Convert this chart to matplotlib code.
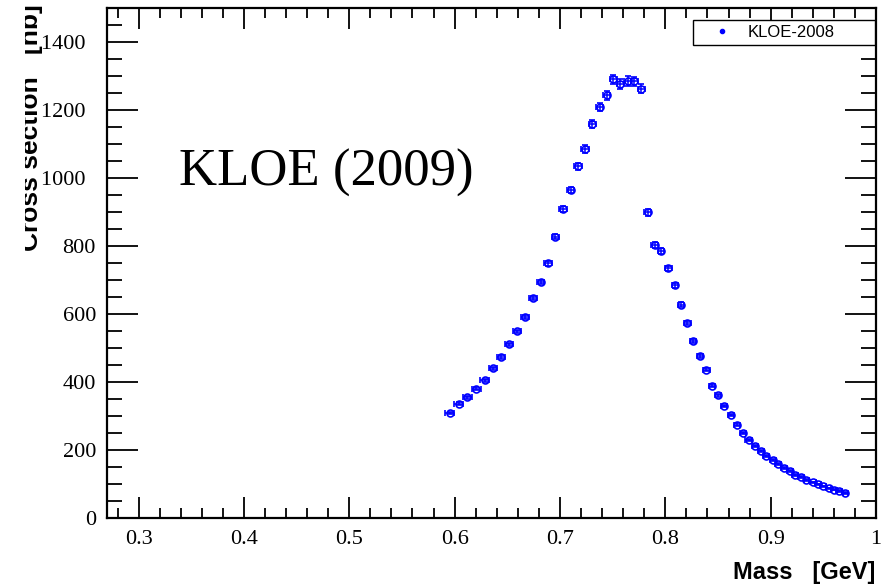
import matplotlib
matplotlib.use("Agg")
import matplotlib.pyplot as plt
from matplotlib.lines import Line2D
from matplotlib.ticker import MultipleLocator, FuncFormatter
from matplotlib.transforms import Bbox

# KLOE-2008 points
mass = [0.5955, 0.6038, 0.612, 0.6206, 0.6285, 0.6364, 0.644, 0.6516, 0.6592, 0.6668,
        0.6744, 0.6817, 0.6886, 0.6956, 0.7029, 0.710, 0.7171, 0.7238, 0.7308, 0.7377,
        0.7444, 0.7507, 0.7574, 0.7643, 0.7707, 0.7773, 0.7833, 0.790, 0.796, 0.803,
        0.809, 0.815, 0.821, 0.826, 0.833, 0.839, 0.844, 0.850, 0.856, 0.862,
        0.868, 0.874, 0.879, 0.885, 0.891, 0.896, 0.902, 0.907, 0.913, 0.918,
        0.923, 0.929, 0.934, 0.940, 0.945, 0.950, 0.955, 0.960, 0.965, 0.971]
xsec = [309, 336, 355, 380, 405, 440, 473, 511, 549, 591,
        647, 695, 749, 827, 909, 965, 1035, 1086, 1159, 1209,
        1243, 1290, 1276, 1286, 1284, 1263, 899, 802, 786, 734,
        684, 627, 573, 521, 476, 436, 389, 361, 330, 303,
        275, 251, 230, 212, 197, 183, 171, 158, 148, 138,
        126, 120, 111, 105, 99, 93, 87, 83, 79, 74]
mass_err = [0.0042, 0.0041, 0.0041, 0.0040, 0.0040, 0.0039, 0.0039,
            0.0038, 0.0038, 0.0037, 0.0037, 0.0036, 0.0036, 0.0036, 0.0035,
            0.0035, 0.0035, 0.0034, 0.0034, 0.0034, 0.0033, 0.0033, 0.0033, 0.0033, 0.0032,
            0.0032, 0.0032, 0.0032, 0.0031, 0.0031, 0.0031, 0.0031, 0.0030, 0.0030, 0.0030,
            0.0030, 0.0030, 0.0029,
            0.0029, 0.0029, 0.0029, 0.0029, 0.0029, 0.0029, 0.0029, 0.0029,
            0.0028, 0.0028, 0.0028, 0.0028, 0.0028, 0.0028, 0.0028,
            0.0027, 0.0027, 0.0027, 0.0027, 0.0027, 0.0027, 0.0027]
xsec_err = [4, 4, 4, 4, 5, 5, 5, 5, 5, 6, 6, 6, 7,
            7, 8, 9, 10, 11, 12, 13, 13, 14, 14, 14, 14, 14,
            11, 9, 9, 8, 8, 7, 6, 6, 5, 5, 4, 4,
            3, 3, 3, 3, 3, 3, 3, 3,
            2.5, 2.5, 2.5, 2.5, 2.5, 2.5, 2.5,
            2, 2, 2, 2, 2, 2, 2]

W, H = 890, 587
fig = plt.figure(figsize=(W / 100, H / 100), dpi=100)
ax = fig.add_axes([107 / W, 69 / H, (876 - 107) / W, (579 - 69) / H])

ax.errorbar(mass, xsec, xerr=mass_err, yerr=xsec_err, fmt='o', ms=5,
            mfc='none', mec='blue', mew=1.2, color='blue', elinewidth=1.1,
            capsize=2.5, capthick=1.1)

ax.set_xlim(0.27, 1.0)
ax.set_ylim(0, 1500)

ax.xaxis.set_major_locator(MultipleLocator(0.1))
ax.xaxis.set_minor_locator(MultipleLocator(0.02))
ax.yaxis.set_major_locator(MultipleLocator(200))
ax.yaxis.set_minor_locator(MultipleLocator(50))
ax.xaxis.set_major_formatter(FuncFormatter(lambda v, p: '%g' % round(v, 2)))
# the 4-digit labels sit further left in the original
ax.yaxis.set_major_formatter(FuncFormatter(
    lambda v, p: '%d \u2009' % v if v >= 1000 else '%d' % v))

ax.tick_params(axis='both', which='both', direction='in', top=True, right=True,
               width=1.3, labelfontfamily='Liberation Serif', labelsize=16)
ax.tick_params(axis='x', which='major', length=15, pad=9)
ax.tick_params(axis='x', which='minor', length=7.5)
ax.tick_params(axis='y', which='major', length=22, pad=8)
ax.tick_params(axis='y', which='minor', length=11)
for s in ax.spines.values():
    s.set_linewidth(1.6)

ax.text(0.338, 976, 'KLOE (2009)', family='Liberation Serif', fontsize=38,
        ha='left', va='baseline')

ax.legend(handles=[Line2D([], [], marker='o', ms=3, ls='', color='blue')],
          labels=['KLOE-2008'], loc='upper left',
          bbox_to_anchor=(693 / W, 1 - 20 / H - 0.01, (875 - 693) / W, 0.01),
          bbox_transform=fig.transFigure, mode='expand', borderaxespad=0,
          fancybox=False, framealpha=1, edgecolor='black',
          prop={'family': 'Liberation Sans', 'size': 12},
          handlelength=2.9, handletextpad=0.1, borderpad=0.3)
ax.get_legend().get_frame().set_linewidth(1)

fig.text(875 / W, 1 - 572 / H, 'Mass   [GeV]', family='Liberation Sans',
         weight='bold', fontsize=17, ha='right', va='center')

ylab = fig.text(43 / W, 1 - 4 / H, 'Cross section   [nb]', family='Liberation Sans',
                weight='bold', fontsize=19, rotation=90, ha='right', va='top')
ylab.set_clip_box(Bbox.from_extents(25, 0, W, H))
ylab.set_clip_on(True)

fig.savefig('out.png', dpi=100)
